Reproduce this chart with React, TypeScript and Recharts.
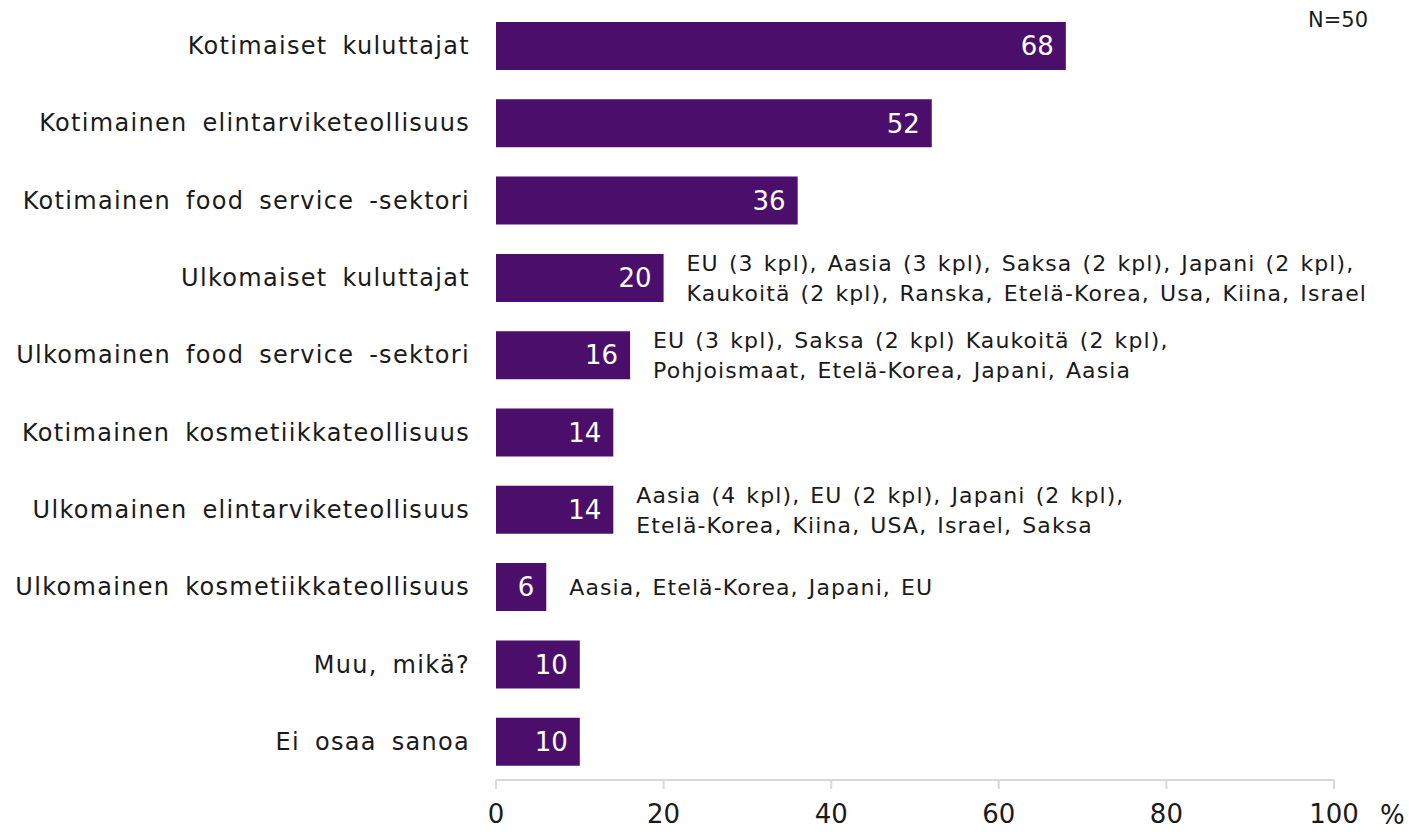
import { Bar, BarChart, LabelList, XAxis, YAxis } from "recharts";

const categories = [
  "Kotimaiset kuluttajat",
  "Kotimainen elintarviketeollisuus",
  "Kotimainen food service -sektori",
  "Ulkomaiset kuluttajat",
  "Ulkomainen food service -sektori",
  "Kotimainen kosmetiikkateollisuus",
  "Ulkomainen elintarviketeollisuus",
  "Ulkomainen kosmetiikkateollisuus",
  "Muu, mikä?",
  "Ei osaa sanoa",
];

const values = [68, 52, 36, 20, 16, 14, 14, 6, 10, 10];

const notes: string[][] = [
  [],
  [],
  [],
  [
    "EU (3 kpl), Aasia (3 kpl), Saksa (2 kpl), Japani (2 kpl),",
    "Kaukoitä (2 kpl), Ranska, Etelä-Korea, Usa, Kiina, Israel",
  ],
  ["EU (3 kpl), Saksa (2 kpl) Kaukoitä (2 kpl),", "Pohjoismaat, Etelä-Korea, Japani, Aasia"],
  [],
  ["Aasia (4 kpl), EU (2 kpl), Japani (2 kpl),", "Etelä-Korea, Kiina, USA, Israel, Saksa"],
  ["Aasia, Etelä-Korea, Japani, EU"],
  [],
  [],
];

const xTicks = [0, 20, 40, 60, 80, 100];

const data = categories.map((name, i) => ({ name, value: values[i], note: notes[i] }));

const FONT = "'DejaVu Sans', sans-serif";
const PURPLE = "#4b0f6b";

function NoteLabel(props: any) {
  const { x, y, width, height, index } = props;
  const lines = notes[index] || [];
  if (!lines.length) return null;
  const cx = x + width + 23;
  const cy = y + height / 2;
  const lh = 30;
  const start = cy - ((lines.length - 1) * lh) / 2;
  return (
    <text
      x={cx}
      fontSize={22}
      fontFamily={FONT}
      fill="#1a1a1a"
      textAnchor="start"
      style={{ letterSpacing: "1.1px", wordSpacing: "2px" }}
    >
      {lines.map((l, k) => (
        <tspan key={k} x={cx} y={start + k * lh} dy="0.35em">
          {l}
        </tspan>
      ))}
    </text>
  );
}

export default function App() {
  return (
    <div style={{ position: "absolute", left: 0, top: 0, width: 1409, height: 832, background: "#fff", fontFamily: FONT }}>
      <BarChart
        width={1409}
        height={832}
        data={data}
        layout="vertical"
        margin={{ top: 7, right: 75, left: 0, bottom: 0 }}
        barSize={48}
      >
        <XAxis
          type="number"
          domain={[0, 100]}
          ticks={xTicks}
          axisLine={{ stroke: "#d9d9d9", strokeWidth: 2 }}
          tickLine={{ stroke: "#d9d9d9", strokeWidth: 2 }}
          tickSize={9}
          tickMargin={16}
          height={52}
          tick={{ fill: "#1a1a1a", fontSize: 26, fontFamily: FONT }}
        />
        <YAxis
          type="category"
          dataKey="name"
          width={496}
          axisLine={false}
          tickLine={false}
          tickMargin={20}
          tick={{
            fill: "#1a1a1a",
            fontSize: 24,
            fontFamily: FONT,
            style: { letterSpacing: "1.3px", wordSpacing: "6px" },
          }}
        />
        <Bar dataKey="value" fill={PURPLE} isAnimationActive={false}>
          <LabelList
            dataKey="value"
            position="insideRight"
            offset={12}
            fill="#fff"
            fontSize={26}
            fontFamily={FONT}
          />
          <LabelList dataKey="value" content={NoteLabel} />
        </Bar>
      </BarChart>
      <div style={{ position: "absolute", left: 1308, top: 8, fontSize: 21, color: "#1a1a1a" }}>N=50</div>
      <div style={{ position: "absolute", left: 1380, top: 800, fontSize: 26, color: "#1a1a1a" }}>%</div>
    </div>
  );
}
